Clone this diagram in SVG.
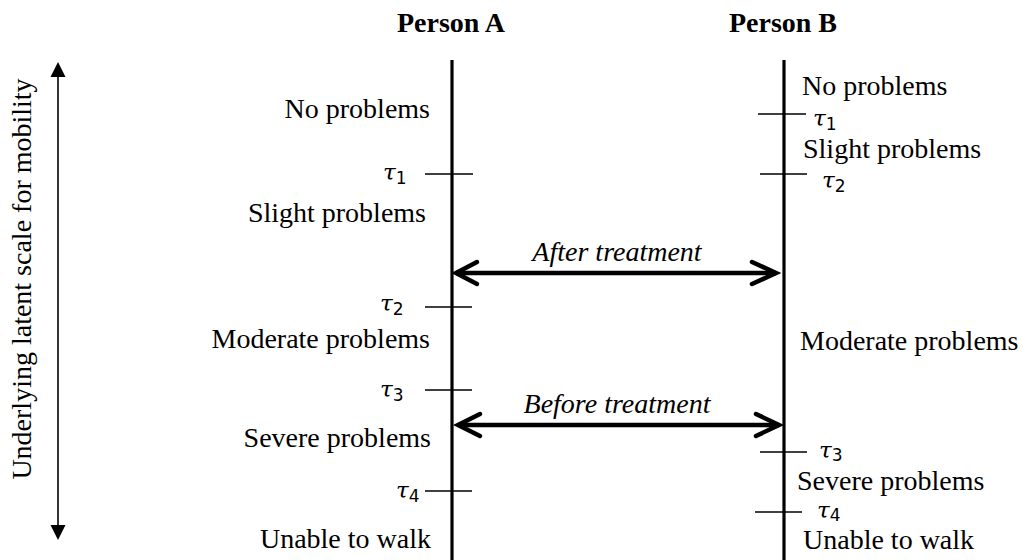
<svg xmlns="http://www.w3.org/2000/svg" width="1023" height="560" viewBox="0 0 1023 560">
<style>
text{font-family:"Liberation Serif","Times New Roman",serif;font-size:28px;fill:#000}
.hdr{font-weight:bold;text-anchor:middle}
.r{text-anchor:end}
.it{font-style:italic;text-anchor:middle}
.tau{font-family:"DejaVu Serif","Liberation Serif",serif;font-style:italic;font-size:23px}
.sub{font-family:"DejaVu Sans","Liberation Sans",sans-serif;font-style:normal;font-size:17px}
.axis{stroke:#000;stroke-width:3.2;fill:none}
.tick{stroke:#000;stroke-width:1.4;fill:none}
.dbl{stroke:#000;stroke-width:4.5;fill:none}
.chev{stroke:#000;stroke-width:4.5;fill:none;stroke-linecap:round;stroke-linejoin:miter}
</style>
<rect width="1023" height="560" fill="#fff"/>
<g id="scale-axis">
<line x1="58" y1="76" x2="58" y2="526" stroke="#000" stroke-width="1.6"/>
<path d="M50.5,77 L58,62 L65.5,77 Z" fill="#000"/>
<path d="M50.5,525 L58,540 L65.5,525 Z" fill="#000"/>
<text transform="translate(31,279) rotate(-90)" text-anchor="middle">Underlying latent scale for mobility</text>
</g>
<g id="person-a">
<text class="hdr" x="451" y="32">Person A</text>
<line class="axis" x1="452" y1="60" x2="452" y2="560"/>
<line class="tick" x1="425" y1="174" x2="473" y2="174"/>
<line class="tick" x1="425" y1="307" x2="472" y2="307"/>
<line class="tick" x1="425" y1="390" x2="472" y2="390"/>
<line class="tick" x1="425" y1="491" x2="472" y2="491"/>
<text class="r" x="430" y="118">No problems</text>
<text class="tau" x="383" y="180">τ<tspan class="sub" dy="4">1</tspan></text>
<text class="r" x="426" y="222">Slight problems</text>
<text class="tau" x="380" y="311">τ<tspan class="sub" dy="4">2</tspan></text>
<text class="r" x="430" y="348">Moderate problems</text>
<text class="tau" x="380" y="397">τ<tspan class="sub" dy="4">3</tspan></text>
<text class="r" x="431" y="447">Severe problems</text>
<text class="tau" x="396" y="498">τ<tspan class="sub" dy="4">4</tspan></text>
<text class="r" x="431" y="548">Unable to walk</text>
</g>
<g id="person-b">
<text class="hdr" x="783" y="32">Person B</text>
<line class="axis" x1="784" y1="60" x2="784" y2="560"/>
<line class="tick" x1="758" y1="114" x2="806" y2="114"/>
<line class="tick" x1="760" y1="174" x2="807" y2="174"/>
<line class="tick" x1="760" y1="452" x2="807" y2="452"/>
<line class="tick" x1="755" y1="512" x2="802" y2="512"/>
<text x="802" y="95">No problems</text>
<text class="tau" x="813" y="126">τ<tspan class="sub" dy="4">1</tspan></text>
<text x="803" y="158">Slight problems</text>
<text class="tau" x="822" y="188">τ<tspan class="sub" dy="4">2</tspan></text>
<text x="800" y="350">Moderate problems</text>
<text class="tau" x="819" y="458">τ<tspan class="sub" dy="3">3</tspan></text>
<text x="797" y="490">Severe problems</text>
<text class="tau" x="817" y="518">τ<tspan class="sub" dy="3">4</tspan></text>
<text x="803" y="549">Unable to walk</text>
</g>
<g id="connectors">
<g id="after-treatment">
<line class="dbl" x1="456" y1="273" x2="776" y2="273"/>
<path class="chev" d="M477,262 L456,273 L477,284"/>
<path class="chev" d="M752,262 L776,273 L752,284"/>
<text class="it" x="617" y="261">After treatment</text>
</g>
<g id="before-treatment">
<line class="dbl" x1="458" y1="425" x2="779" y2="425"/>
<path class="chev" d="M480,414 L458,425 L480,436"/>
<path class="chev" d="M756,414 L779,425 L756,436"/>
<text class="it" x="617" y="413">Before treatment</text>
</g>
</g>
</svg>
